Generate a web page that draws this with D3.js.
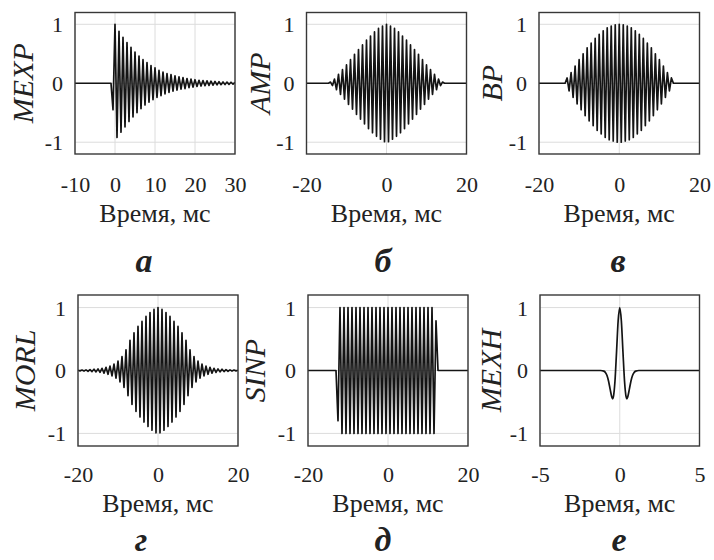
<!DOCTYPE html>
<meta charset="utf-8">
<body style="margin:0; background:#fff">
<script src="https://cdn.jsdelivr.net/npm/d3@7"></script>
<script>
// time samples, ms (extrema every half period)
var tMexp = [-10,-9.5,-9,-8.5,-8,-7.5,-7,-6.5,-6,-5.5,-5,-4.5,-4,-3.5,-3,-2.5,-2,-1.5,-1,-0.5,
  0,0.5,1,1.5,2,2.5,3,3.5,4,4.5,5,5.5,6,6.5,7,7.5,8,8.5,9,9.5,10,10.5,11,11.5,12,12.5,13,13.5,14,14.5,
  15,15.5,16,16.5,17,17.5,18,18.5,19,19.5,20,20.5,21,21.5,22,22.5,23,23.5,24,24.5,25,25.5,26,26.5,27,27.5,
  28,28.5,29,29.5,30];
var tSym = [-20,-19.5,-19,-18.5,-18,-17.5,-17,-16.5,-16,-15.5,-15,-14.5,-14,-13.5,-13,-12.5,-12,-11.5,-11,-10.5,
  -10,-9.5,-9,-8.5,-8,-7.5,-7,-6.5,-6,-5.5,-5,-4.5,-4,-3.5,-3,-2.5,-2,-1.5,-1,-0.5,0,
  0.5,1,1.5,2,2.5,3,3.5,4,4.5,5,5.5,6,6.5,7,7.5,8,8.5,9,9.5,10,10.5,11,11.5,12,12.5,13,13.5,14,14.5,
  15,15.5,16,16.5,17,17.5,18,18.5,19,19.5,20];

var mexpV = [0,0,0,0,0,0,0,0,0,0,0,0,0,0,0,0,0,0,0,
  -0.45,1.00,-0.92,0.88,-0.83,0.78,-0.74,0.69,-0.65,0.61,-0.57,0.53,-0.50,0.46,-0.43,0.40,-0.37,0.35,-0.32,0.30,
  -0.28,0.26,-0.24,0.22,-0.21,0.19,-0.18,0.165,-0.155,0.145,-0.135,0.125,-0.115,0.11,-0.10,0.095,-0.09,0.08,
  -0.075,0.07,-0.065,0.06,-0.055,0.05,-0.048,0.045,-0.042,0.04,-0.037,0.035,-0.032,0.03,-0.028,0.026,-0.024,
  0.022,-0.021,0.02,-0.018,0.017,-0.016,0.015];

var ampV = [0,0,0,0,0,0,0,0,0,0,0,0,
  0.02,-0.04,0.07,-0.11,0.15,-0.19,0.23,-0.27,0.31,-0.36,0.40,-0.44,0.49,-0.53,0.57,-0.61,0.65,-0.69,0.73,
  -0.77,0.80,-0.84,0.87,-0.90,0.93,-0.95,0.97,-0.99,1.00,
  -0.99,0.97,-0.95,0.93,-0.90,0.87,-0.84,0.80,-0.77,0.73,-0.69,0.65,-0.61,0.57,-0.53,0.49,-0.44,0.40,-0.36,
  0.31,-0.27,0.23,-0.19,0.15,-0.11,0.07,-0.04,0.02,
  0,0,0,0,0,0,0,0,0,0,0,0];

var bpV = [0,0,0,0,0,0,0,0,0,0,0,0,0,0,
  0.09,-0.13,0.18,-0.24,0.29,-0.35,0.40,-0.45,0.50,-0.55,0.60,-0.64,0.68,-0.72,0.76,-0.80,0.83,-0.86,0.89,
  -0.92,0.94,-0.96,0.97,-0.98,0.99,-1.00,1.00,
  -1.00,0.99,-0.98,0.97,-0.96,0.94,-0.92,0.89,-0.86,0.83,-0.80,0.76,-0.72,0.68,-0.64,0.60,-0.55,0.50,-0.45,
  0.40,-0.35,0.29,-0.24,0.18,-0.13,0.09,
  0,0,0,0,0,0,0,0,0,0,0,0,0,0];

var morlV = [0.005,-0.006,0.008,-0.009,0.01,-0.012,0.015,-0.017,0.02,-0.022,0.025,-0.03,0.035,-0.042,0.05,
  -0.06,0.07,-0.085,0.10,-0.12,0.15,-0.18,0.22,-0.27,0.33,-0.40,0.48,-0.54,0.60,-0.65,0.70,-0.74,0.78,-0.82,
  0.86,-0.89,0.92,-0.95,0.97,-0.99,1.00,
  -0.99,0.97,-0.95,0.92,-0.89,0.86,-0.82,0.78,-0.74,0.70,-0.65,0.60,-0.54,0.48,-0.40,0.33,-0.27,0.22,-0.18,
  0.15,-0.12,0.10,-0.085,0.07,-0.06,0.05,-0.042,0.035,-0.03,0.025,-0.022,0.02,-0.017,0.015,-0.012,0.01,
  -0.009,0.008,-0.006,0.005];

var sinpV = [0,0,0,0,0,0,0,0,0,0,0,0,0,0,0,
  -0.8,
  1,-1,1,-1,1,-1,1,-1,1,-1,1,-1,1,-1,1,-1,1,-1,1,-1,1,-1,1,-1,
  1,-1,1,-1,1,-1,1,-1,1,-1,1,-1,1,-1,1,-1,1,-1,1,-1,1,-1,1,-1,
  0.79,
  0,0,0,0,0,0,0,0,0,0,0,0,0,0,0,0];

var mexhT = [-5,-2,-1.2,-1.0,-0.9,-0.8,-0.7,-0.6,-0.5,-0.45,-0.4,-0.3,-0.2,-0.1,0,
  0.1,0.2,0.3,0.4,0.45,0.5,0.6,0.7,0.8,0.9,1.0,1.2,2,5];
var mexhV = [0,0,0,-0.01,-0.03,-0.08,-0.17,-0.30,-0.42,-0.45,-0.42,-0.17,0.30,0.79,1.00,
  0.79,0.30,-0.17,-0.42,-0.45,-0.42,-0.30,-0.17,-0.08,-0.03,-0.01,0,0,0];

var xTicksA = [-10,0,10,20,30];
var xTicks20 = [-20,0,20];
var xTicks5 = [-5,0,5];
var yTicks = [-1,0,1];
var xLabel = "Время, мс";

var FONT = "Liberation Serif";

// layout
var rows = [
  {top: 12.5, bottom: 154, tickY: 192, labY: 222, capY: 272},
  {top: 295, bottom: 446, tickY: 482, labY: 512, capY: 551}
];
var panels = [
  {name: "MEXP", cap: "а", t: tMexp, v: mexpV, dom: [-10, 30], ticks: xTicksA, row: 0, x0: 75, x1: 235, capX: 144, ylx: 33},
  {name: "AMP", cap: "б", t: tSym, v: ampV, dom: [-20, 20], ticks: xTicks20, row: 0, x0: 306.5, x1: 466.5, capX: 383, ylx: 270},
  {name: "BP", cap: "в", t: tSym, v: bpV, dom: [-20, 20], ticks: xTicks20, row: 0, x0: 539, x1: 699.5, capX: 618, ylx: 502},
  {name: "MORL", cap: "г", t: tSym, v: morlV, dom: [-20, 20], ticks: xTicks20, row: 1, x0: 78, x1: 238, capX: 141, ylx: 35},
  {name: "SINP", cap: "д", t: tSym, v: sinpV, dom: [-20, 20], ticks: xTicks20, row: 1, x0: 308, x1: 468, capX: 383, ylx: 265},
  {name: "MEXH", cap: "е", t: mexhT, v: mexhV, dom: [-5, 5], ticks: xTicks5, row: 1, x0: 540, x1: 699.5, capX: 619, ylx: 501, smooth: true}
];

var svg = d3.select("body").append("svg")
    .attr("width", 714)
    .attr("height", 560)
    .style("font-family", FONT);

function serif(sel, size) {
  sel.style("font-family", FONT).style("font-size", size + "px").attr("fill", "#222");
}

panels.forEach(function(p, k) {
  var r = rows[p.row];
  var x = d3.scaleLinear().domain(p.dom).range([p.x0, p.x1]);
  var y = d3.scaleLinear().domain([-1.2, 1.2]).range([r.bottom, r.top]);
  var g = svg.append("g");

  g.append("clipPath").attr("id", "clip" + k)
    .append("rect")
      .attr("x", p.x0).attr("y", r.top)
      .attr("width", p.x1 - p.x0).attr("height", r.bottom - r.top);

  var grid = g.append("g").attr("stroke", "#dcdcdc").attr("stroke-width", 1);
  grid.selectAll(".gx").data(p.ticks).enter().append("line")
      .attr("x1", function(d) { return x(d); })
      .attr("x2", function(d) { return x(d); })
      .attr("y1", r.top).attr("y2", r.bottom);
  grid.selectAll(".gy").data(yTicks).enter().append("line")
      .attr("x1", p.x0).attr("x2", p.x1)
      .attr("y1", function(d) { return y(d); })
      .attr("y2", function(d) { return y(d); });

  var line = d3.line()
      .x(function(d) { return x(d[0]); })
      .y(function(d) { return y(d[1]); });
  if (p.smooth) line.curve(d3.curveMonotoneX);

  g.append("path")
      .attr("fill", "none")
      .attr("stroke", "#141414")
      .attr("stroke-linejoin", "round")
      .attr("clip-path", "url(#clip" + k + ")")
      .attr("stroke-width", p.smooth ? 1.7 : 1.7)
      .attr("d", line(d3.zip(p.t, p.v)));

  g.append("rect")
      .attr("fill", "none").attr("stroke", "#383838").attr("stroke-width", 1.4)
      .attr("x", p.x0).attr("y", r.top)
      .attr("width", p.x1 - p.x0).attr("height", r.bottom - r.top);

  // tick labels
  var ax = g.append("g")
      .attr("transform", "translate(0," + r.tickY + ")")
      .call(d3.axisBottom(x).tickValues(p.ticks).tickSize(0)
        .tickFormat(function(d) { return String(d); }));
  ax.attr("font-family", FONT);
  ax.select(".domain").remove();
  ax.selectAll("text").attr("y", 0).attr("dy", 0).call(serif, 22);

  var ay = g.append("g")
      .attr("transform", "translate(" + (p.x0 - 12) + ",0)")
      .call(d3.axisLeft(y).tickValues(yTicks).tickSize(0)
        .tickFormat(function(d) { return String(d); }));
  ay.attr("font-family", FONT);
  ay.select(".domain").remove();
  ay.selectAll("text").attr("x", 0).attr("dy", "0.34em").call(serif, 22);

  g.append("text")
      .attr("x", (p.x0 + p.x1) / 2).attr("y", r.labY)
      .attr("text-anchor", "middle")
      .call(serif, 26)
      .text(xLabel);

  g.append("text")
      .attr("transform", "translate(" + p.ylx + "," + (r.top + r.bottom) / 2 + ") rotate(-90)")
      .attr("text-anchor", "middle")
      .call(serif, 30)
      .style("font-style", "italic")
      .text(p.name);

  g.append("text")
      .attr("x", p.capX).attr("y", r.capY)
      .attr("text-anchor", "middle")
      .call(serif, 34)
      .style("font-style", "italic").style("font-weight", "bold")
      .text(p.cap);
});
</script>
</body>
